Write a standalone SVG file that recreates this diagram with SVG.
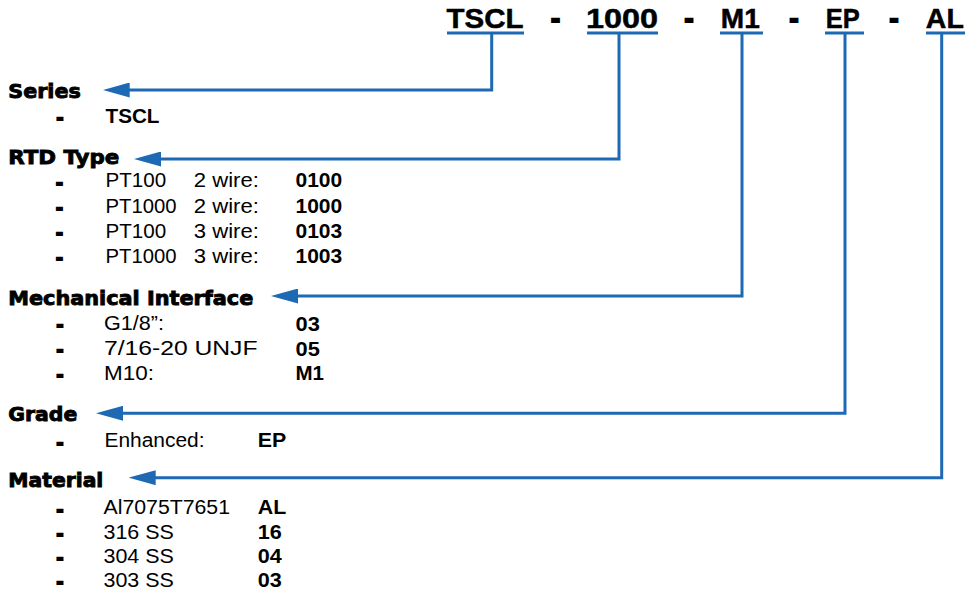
<svg xmlns="http://www.w3.org/2000/svg" width="965" height="594" viewBox="0 0 965 594">
<style>
.code{font-family:"Liberation Sans",Arial,sans-serif;font-weight:bold;font-size:28px;fill:#000;stroke:#000;stroke-width:0.5}
.dash{font-family:"Liberation Sans",Arial,sans-serif;font-weight:bold;font-size:27px;fill:#000;stroke:#000;stroke-width:2;text-anchor:middle}
.head{font-family:"DejaVu Sans","Liberation Sans",sans-serif;font-weight:bold;font-size:20px;fill:#000;stroke:#000;stroke-width:0.9}
.item{font-family:"Liberation Sans",Arial,sans-serif;font-size:20px;fill:#000}
.val{font-family:"Liberation Sans",Arial,sans-serif;font-weight:bold;font-size:20px;fill:#000}
.bul{font-family:"Liberation Sans",Arial,sans-serif;font-weight:bold;font-size:19px;fill:#000;stroke:#000;stroke-width:2.2;text-anchor:middle}
.ul{stroke:#1E69B4;stroke-width:3;fill:none}
.conn{stroke:#1E69B4;stroke-width:3;fill:none;stroke-linejoin:miter}
</style>
<defs>
<marker id="arr" viewBox="0 0 27 15" markerUnits="userSpaceOnUse" markerWidth="27" markerHeight="15" refX="1" refY="7.5" orient="auto">
<path d="M0,0 L27,7.5 L0,15 Z" fill="#1E69B4"/>
</marker>
</defs>

<g id="code">
<text class="code" x="446.5" y="28.3" textLength="77" lengthAdjust="spacingAndGlyphs">TSCL</text>
<text class="dash" x="555.5" y="28.3">-</text>
<text class="code" x="586" y="28.3" textLength="72" lengthAdjust="spacingAndGlyphs">1000</text>
<text class="dash" x="689" y="28.3">-</text>
<text class="code" x="720.8" y="28.3" textLength="39" lengthAdjust="spacingAndGlyphs">M1</text>
<text class="dash" x="794" y="28.3">-</text>
<text class="code" x="825.8" y="28.3" textLength="34" lengthAdjust="spacingAndGlyphs">EP</text>
<text class="dash" x="894" y="28.3">-</text>
<text class="code" x="925.8" y="28.3" textLength="38" lengthAdjust="spacingAndGlyphs">AL</text>
<line class="ul" x1="447" y1="33" x2="524" y2="33"/>
<line class="ul" x1="587" y1="33" x2="658" y2="33"/>
<line class="ul" x1="720" y1="33" x2="763" y2="33"/>
<line class="ul" x1="825" y1="33" x2="864" y2="33"/>
<line class="ul" x1="926" y1="33" x2="965" y2="33"/>
</g>

<g id="connectors">
<path class="conn" d="M491.7,33 V90 H128.7" marker-end="url(#arr)"/>
<path class="conn" d="M619,33 V159 H160" marker-end="url(#arr)"/>
<path class="conn" d="M742,33 V296 H297" marker-end="url(#arr)"/>
<path class="conn" d="M845,33 V413.3 H122" marker-end="url(#arr)"/>
<path class="conn" d="M941.7,33 V477.7 H154.7" marker-end="url(#arr)"/>
</g>

<g id="series">
<text class="head" x="8.3" y="97.7" textLength="72.4" lengthAdjust="spacingAndGlyphs">Series</text>
<text class="bul" x="60" y="124.2">-</text>
<text class="val" x="105.5" y="122.7" textLength="54" lengthAdjust="spacingAndGlyphs">TSCL</text>
</g>

<g id="rtd-type">
<text class="head" x="8.3" y="164" textLength="111" lengthAdjust="spacingAndGlyphs">RTD Type</text>
<text class="bul" x="59.5" y="188.7">-</text>
<text class="item" x="105.5" y="187.3" textLength="60.7" lengthAdjust="spacingAndGlyphs">PT100</text>
<text class="item" x="193.8" y="187.3" textLength="65" lengthAdjust="spacingAndGlyphs">2 wire:</text>
<text class="val" x="295.5" y="187.3" textLength="46.7" lengthAdjust="spacingAndGlyphs">0100</text>
<text class="bul" x="59.5" y="213.9">-</text>
<text class="item" x="105.5" y="212.5" textLength="71" lengthAdjust="spacingAndGlyphs">PT1000</text>
<text class="item" x="193.8" y="212.5" textLength="65" lengthAdjust="spacingAndGlyphs">2 wire:</text>
<text class="val" x="295.5" y="212.5" textLength="46.7" lengthAdjust="spacingAndGlyphs">1000</text>
<text class="bul" x="59.5" y="239.1">-</text>
<text class="item" x="105.5" y="237.7" textLength="60.7" lengthAdjust="spacingAndGlyphs">PT100</text>
<text class="item" x="193.8" y="237.7" textLength="65" lengthAdjust="spacingAndGlyphs">3 wire:</text>
<text class="val" x="295.5" y="237.7" textLength="46.7" lengthAdjust="spacingAndGlyphs">0103</text>
<text class="bul" x="59.5" y="264.1">-</text>
<text class="item" x="105.5" y="262.7" textLength="71" lengthAdjust="spacingAndGlyphs">PT1000</text>
<text class="item" x="193.8" y="262.7" textLength="65" lengthAdjust="spacingAndGlyphs">3 wire:</text>
<text class="val" x="295.5" y="262.7" textLength="46.7" lengthAdjust="spacingAndGlyphs">1003</text>
</g>

<g id="mechanical-interface">
<text class="head" x="8.3" y="305" textLength="245" lengthAdjust="spacingAndGlyphs">Mechanical Interface</text>
<text class="bul" x="60" y="331.4">-</text>
<text class="item" x="104" y="330" textLength="60" lengthAdjust="spacingAndGlyphs">G1/8”:</text>
<text class="val" x="295.5" y="330.5" textLength="24.3" lengthAdjust="spacingAndGlyphs">03</text>
<text class="bul" x="60" y="356.4">-</text>
<text class="item" x="104" y="355" textLength="153.5" lengthAdjust="spacingAndGlyphs">7/16-20 UNJF</text>
<text class="val" x="295.5" y="355.5" textLength="24.3" lengthAdjust="spacingAndGlyphs">05</text>
<text class="bul" x="60" y="381.4">-</text>
<text class="item" x="104" y="380" textLength="50" lengthAdjust="spacingAndGlyphs">M10:</text>
<text class="val" x="295.5" y="380.2" textLength="28.5" lengthAdjust="spacingAndGlyphs">M1</text>
</g>

<g id="grade">
<text class="head" x="8.3" y="420.7" textLength="69" lengthAdjust="spacingAndGlyphs">Grade</text>
<text class="bul" x="60" y="448.7">-</text>
<text class="item" x="104.5" y="447.3" textLength="100" lengthAdjust="spacingAndGlyphs">Enhanced:</text>
<text class="val" x="257.8" y="447.3" textLength="28.5" lengthAdjust="spacingAndGlyphs">EP</text>
</g>

<g id="material">
<text class="head" x="8.3" y="486.7" textLength="95" lengthAdjust="spacingAndGlyphs">Material</text>
<text class="bul" x="60" y="515.6">-</text>
<text class="item" x="103.5" y="514.2" textLength="126.5" lengthAdjust="spacingAndGlyphs">Al7075T7651</text>
<text class="val" x="257.8" y="514.2" textLength="28.5" lengthAdjust="spacingAndGlyphs">AL</text>
<text class="bul" x="60" y="540">-</text>
<text class="item" x="103.5" y="538.6" textLength="70.3" lengthAdjust="spacingAndGlyphs">316 SS</text>
<text class="val" x="257.8" y="538.6" textLength="24" lengthAdjust="spacingAndGlyphs">16</text>
<text class="bul" x="60" y="564.3">-</text>
<text class="item" x="103.5" y="562.9" textLength="70.3" lengthAdjust="spacingAndGlyphs">304 SS</text>
<text class="val" x="257.8" y="562.9" textLength="24" lengthAdjust="spacingAndGlyphs">04</text>
<text class="bul" x="60" y="588.4">-</text>
<text class="item" x="103.5" y="587" textLength="70.3" lengthAdjust="spacingAndGlyphs">303 SS</text>
<text class="val" x="257.8" y="587" textLength="24" lengthAdjust="spacingAndGlyphs">03</text>
</g>
</svg>
